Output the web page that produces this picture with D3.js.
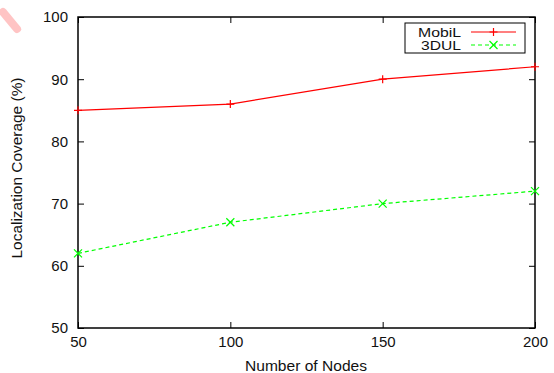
<!DOCTYPE html>
<html><head><meta charset="utf-8">
<script src="https://cdn.jsdelivr.net/npm/d3@7"></script>
<style>body{margin:0;background:#fff}svg{display:block}text{font-family:"Liberation Sans",Arial,sans-serif;fill:#111}</style>
</head><body><svg id="c" width="554" height="373"></svg>
<script>
const nodes = [50, 100, 150, 200];
const mobil = [85, 86, 90, 92];
const dul3d = [62, 67, 70, 72];
const xTicks = [50, 100, 150, 200];
const yTicks = [50, 60, 70, 80, 90, 100];
const seriesNames = ["MobiL", "3DUL"];

const svg = d3.select("#c");
const L = 78, R = 535, T = 17, B = 328;
const x = d3.scaleLinear().domain([50, 200]).range([L, R]);
const y = d3.scaleLinear().domain([50, 100]).range([B, T]);

// faint watermark
svg.append("line").attr("x1", 3).attr("y1", 12).attr("x2", 17).attr("y2", 29)
  .attr("stroke", "#ffc4c4").attr("stroke-width", 8).attr("stroke-linecap", "round");

const tl = 6;
svg.append("g").attr("transform", `translate(0,${B})`)
  .call(d3.axisBottom(x).tickValues(xTicks).tickSize(-tl).tickPadding(8))
  .call(g => g.select(".domain").remove());
svg.append("g").attr("transform", `translate(0,${T})`)
  .call(d3.axisTop(x).tickValues(xTicks).tickSize(-tl).tickFormat(""))
  .call(g => g.select(".domain").remove());
svg.append("g").attr("transform", `translate(${L},0)`)
  .call(d3.axisLeft(y).tickValues(yTicks).tickSize(-tl).tickPadding(10))
  .call(g => g.select(".domain").remove());
svg.append("g").attr("transform", `translate(${R},0)`)
  .call(d3.axisRight(y).tickValues(yTicks).tickSize(-tl).tickFormat(""))
  .call(g => g.select(".domain").remove());
svg.selectAll(".tick line").attr("stroke", "#000").attr("stroke-width", 1);
svg.selectAll(".tick text").attr("font-size", 15).attr("font-family", '"Liberation Sans",Arial,sans-serif').attr("fill", "#111");

svg.append("rect").attr("x", L).attr("y", T).attr("width", R - L).attr("height", B - T)
  .attr("fill", "none").attr("stroke", "#000").attr("stroke-width", 1.5);

const line = d3.line().x((d, i) => x(nodes[i])).y(d => y(d));
svg.append("path").datum(mobil).attr("d", line).attr("fill", "none").attr("stroke", "#ff0000").attr("stroke-width", 1.2);
svg.append("path").datum(dul3d).attr("d", line).attr("fill", "none").attr("stroke", "#00ff00").attr("stroke-width", 1.2).attr("stroke-dasharray", "4,3");

function plus(g, cx, cy, col) {
  g.append("path").attr("d", `M${cx-4},${cy}H${cx+4}M${cx},${cy-4}V${cy+4}`).attr("stroke", col).attr("stroke-width", 1.2);
}
function cross(g, cx, cy, col) {
  g.append("path").attr("d", `M${cx-4},${cy-4}L${cx+4},${cy+4}M${cx-4},${cy+4}L${cx+4},${cy-4}`).attr("stroke", col).attr("stroke-width", 1.2);
}
const pts = svg.append("g");
mobil.forEach((v, i) => plus(pts, x(nodes[i]), y(v), "#ff0000"));
dul3d.forEach((v, i) => cross(pts, x(nodes[i]), y(v), "#00ff00"));

// legend
const lg = svg.append("g");
lg.append("rect").attr("x", 405).attr("y", 23).attr("width", 120).attr("height", 30).attr("fill", "#fff").attr("stroke", "#000").attr("stroke-width", 1);
lg.append("text").attr("x", 461).attr("y", 36.5).attr("text-anchor", "end").attr("font-size", 12)
  .attr("textLength", 43).attr("lengthAdjust", "spacingAndGlyphs").text(seriesNames[0]);
lg.append("text").attr("x", 461).attr("y", 49.5).attr("text-anchor", "end").attr("font-size", 12)
  .attr("textLength", 40).attr("lengthAdjust", "spacingAndGlyphs").text(seriesNames[1]);
lg.append("line").attr("x1", 471).attr("x2", 516).attr("y1", 32).attr("y2", 32).attr("stroke", "#ff0000").attr("stroke-width", 1.2);
plus(lg, 493.5, 32, "#ff0000");
lg.append("line").attr("x1", 471).attr("x2", 516).attr("y1", 45).attr("y2", 45).attr("stroke", "#00ff00").attr("stroke-width", 1.2).attr("stroke-dasharray", "4,3");
cross(lg, 493.5, 45, "#00ff00");

// axis titles
svg.append("text").attr("x", 306).attr("y", 371).attr("text-anchor", "middle").attr("font-size", 14)
  .attr("textLength", 122).attr("lengthAdjust", "spacingAndGlyphs").text("Number of Nodes");
svg.append("text").attr("transform", `translate(22,168) rotate(-90)`).attr("text-anchor", "middle").attr("font-size", 14)
  .attr("textLength", 181).attr("lengthAdjust", "spacingAndGlyphs").text("Localization Coverage (%)");
</script></body></html>
